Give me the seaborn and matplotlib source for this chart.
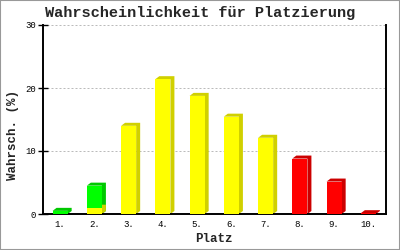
import matplotlib
matplotlib.use("Agg")
import matplotlib.pyplot as plt
import seaborn as sns
import numpy as np
import pandas as pd
from matplotlib.patches import Polygon, Rectangle

categories = ["1.", "2.", "3.", "4.", "5.", "6.", "7.", "8.", "9.", "10."]
yellow_vals = [0.0, 1.0, 14.0, 21.4, 18.75, 15.45, 12.1, 0.0, 0.0, 0.0]
green_vals = [0.5, 3.5, 0.0, 0.0, 0.0, 0.0, 0.0, 0.0, 0.0, 0.0]
red_vals = [0.0, 0.0, 0.0, 0.0, 0.0, 0.0, 0.0, 8.8, 5.15, 0.13]
y_ticks = [0, 10, 20, 30]

sns.set_style("white")
plt.rcParams["font.family"] = ["Liberation Mono", "DejaVu Sans Mono"]

W, H = 400, 250
fig = plt.figure(figsize=(4, 2.5), dpi=100)
ax = fig.add_axes([43 / W, 1 - 214 / H, (385.5 - 43) / W, (214 - 25) / H])

ax.set_xlim(-0.5, 9.5)
ax.set_ylim(0, 30)

# stacked layers (bottom -> top): yellow, green, red; drawn tallest cumulative first
yv = np.array(yellow_vals)
gv = np.array(green_vals)
rv = np.array(red_vals)
layers = [
    (rv, yv + gv + rv, "#FF0000", "#CC0000"),
    (gv, yv + gv, "#00FF00", "#00C800"),
    (yv, yv, "#FFFF00", "#D0D000"),
]

segments = []
for seg, top, front, side in layers:
    mask = seg > 0
    df = pd.DataFrame({"Platz": [c for c, m in zip(categories, mask) if m],
                       "val": top[mask]})
    before = len(ax.patches)
    sns.barplot(data=df, x="Platz", y="val", order=categories, color=front,
                saturation=1, width=0.44, ax=ax, linewidth=0, edgecolor="none")
    for p in ax.patches[before:]:
        segments.append((p, side))

ax.set_xlim(-0.5, 9.5)
ax.set_ylim(0, 30)

dx, dy = 4, 3
inv = ax.transData.inverted()
for p, side in segments:
    p.set_zorder(3)
    x0, y0 = p.get_x(), p.get_y()
    x1, y1 = x0 + p.get_width(), y0 + p.get_height()
    (X0, Y0), (X1, Y1) = ax.transData.transform([(x0, y0), (x1, y1)])
    hexa = [(X0, Y1), (X0 + dx, Y1 + dy), (X1 + dx, Y1 + dy),
            (X1 + dx, Y0 + dy), (X1, Y0), (X1, Y1)]
    data_pts = inv.transform(hexa)
    ax.add_patch(Polygon(data_pts, closed=True, facecolor=side,
                         edgecolor="none", zorder=2))

ax.set_yticks(y_ticks)
ax.set_yticklabels([str(t) for t in y_ticks])
ax.yaxis.grid(True, color="#BBBBBB", linestyle=(0, (2, 2)), linewidth=0.72)
ax.xaxis.grid(False)
ax.set_axisbelow(True)

for s in ["left", "bottom", "right"]:
    ax.spines[s].set_visible(True)
    ax.spines[s].set_color("black")
    ax.spines[s].set_linewidth(1.4)
ax.spines["top"].set_visible(False)

ax.tick_params(axis="y", direction="inout", length=6.5, width=1.0,
               colors="black", labelsize=6.5, pad=2, left=True)
ax.tick_params(axis="x", length=0, labelsize=6.5, pad=4, colors="black")
ax.set_xlabel("")
ax.set_ylabel("")

fig.text(214 / W, 1 - 238.5 / H, "Platz", ha="center", va="center",
         fontsize=9, fontweight="bold")
fig.text(13 / W, 1 - 135 / H, "Wahrsch. (%)", ha="center", va="center",
         rotation=90, fontsize=9, fontweight="bold")
fig.text(0.5, 1 - 13.5 / H, "Wahrscheinlichkeit für Platzierung",
         ha="center", va="center", fontsize=11, fontweight="bold")

fig.patches.append(Rectangle((0, 0), 1, 1, transform=fig.transFigure,
                             fill=False, edgecolor="#999999", linewidth=1.5))

fig.savefig("out.png", dpi=100)
